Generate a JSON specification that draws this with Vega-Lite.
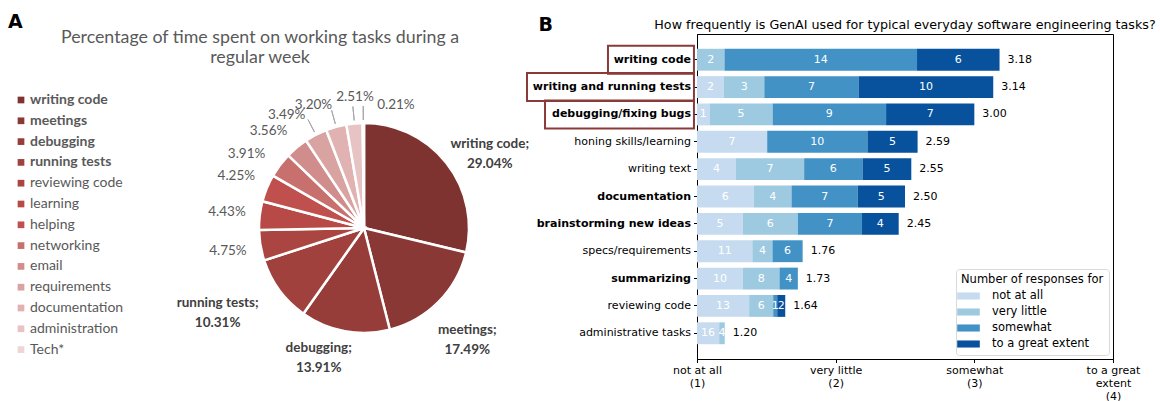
{
  "$schema": "https://vega.github.io/schema/vega-lite/v6.json",
  "padding": {"left": 8, "top": 13, "right": 0, "bottom": 0},
  "bounds": "flush",
  "spacing": 489,
  "resolve": {"scale": {"color": "independent", "theta": "independent", "x": "independent", "y": "independent"}, "legend": {"color": "independent"}},
  "config": {"view": {"stroke": null}, "font": "DejaVu Sans"},
  "hconcat": [
    {
      "title": {"text": "A", "anchor": "start", "frame": "bounds", "fontSize": 19, "fontWeight": "bold", "font": "DejaVu Sans", "color": "black", "dx": -6, "offset": -3},
      "bounds": "flush",
      "resolve": {"legend": {"color": "independent"}},
      "vconcat": [
        {
          "width": 312,
          "height": 388,
          "title": {"text": ["Percentage of time spent on working tasks during a", "regular week"], "font": "Lato", "fontSize": 17.8, "fontWeight": "normal", "color": "#595959", "lineHeight": 20, "anchor": "middle", "frame": "group", "dx": -104, "offset": -33},
          "data": {"values": [
            {"task": "writing code", "pct": 29.04},
            {"task": "meetings", "pct": 17.49},
            {"task": "debugging", "pct": 13.91},
            {"task": "running tests", "pct": 10.31},
            {"task": "reviewing code", "pct": 4.75},
            {"task": "learning", "pct": 4.43},
            {"task": "helping", "pct": 4.25},
            {"task": "networking", "pct": 3.91},
            {"task": "email", "pct": 3.56},
            {"task": "requirements", "pct": 3.49},
            {"task": "documentation", "pct": 3.20},
            {"task": "administration", "pct": 2.51},
            {"task": "Tech*", "pct": 0.21}
          ]},
          "transform": [
            {"stack": "pct", "groupby": [], "sort": [{"field": "pct", "order": "descending"}], "offset": "normalize", "as": ["s0", "s1"]},
            {"calculate": "(datum.s0 + datum.s1) / 2", "as": "mid"},
            {"calculate": "datum.task + ';\\n' + format(datum.pct, '.2f') + '%'", "as": "big"},
            {"calculate": "format(datum.pct, '.2f') + '%'", "as": "small"}
          ],
          "layer": [
            {
              "mark": {"type": "arc", "outerRadius": 105, "stroke": "white", "strokeWidth": 2.5},
              "encoding": {
                "theta": {"field": "s0", "type": "quantitative", "stack": null, "scale": {"domain": [0, 1]}},
                "theta2": {"field": "s1"},
                "color": {
                  "field": "task", "type": "nominal",
                  "scale": {
                    "domain": ["writing code", "meetings", "debugging", "running tests", "reviewing code", "learning", "helping", "networking", "email", "requirements", "documentation", "administration", "Tech*"],
                    "range": ["#7f3331", "#8a3836", "#963d3a", "#a0413e", "#ab4542", "#b74a47", "#c0504d", "#c8706e", "#d18d8b", "#d9a3a1", "#e0b3b2", "#e7c4c3", "#eed6d5"]
                  },
                  "legend": {
                    "orient": "none", "legendX": -194, "legendY": 59, "title": null, "padding": 0,
                    "symbolType": "square", "symbolSize": 45, "symbolStrokeWidth": 0,
                    "labelFont": "Lato", "labelFontSize": 14, "labelColor": "#595959", "labelOffset": 2,
                    "rowPadding": 6.8,
                    "labelFontWeight": {"expr": "indexof(['writing code','meetings','debugging','running tests'], datum.label) >= 0 ? 'bold' : 'normal'"}
                  }
                }
              }
            },
            {
              "transform": [{"filter": "indexof(['requirements','documentation','administration','Tech*'], datum.task) >= 0"}],
              "mark": {"type": "arc", "innerRadius": 108, "outerRadius": 122, "stroke": "#a6a6a6", "strokeWidth": 1, "fillOpacity": 0},
              "encoding": {
                "theta": {"field": "mid", "type": "quantitative", "stack": null, "scale": {"domain": [0, 1]}},
                "theta2": {"field": "mid"}
              }
            },
            {
              "transform": [{"filter": "indexof(['reviewing code','learning','helping'], datum.task) >= 0"}],
              "mark": {"type": "text", "radius": 138, "font": "Lato", "fontSize": 13.5, "color": "#595959"},
              "encoding": {"theta": {"field": "mid", "type": "quantitative", "stack": null, "scale": {"domain": [0, 1]}}, "text": {"field": "small"}}
            },
            {
              "transform": [{"filter": "indexof(['networking','email'], datum.task) >= 0"}],
              "mark": {"type": "text", "radius": 138, "dx": -7, "dy": 9, "font": "Lato", "fontSize": 13.5, "color": "#595959"},
              "encoding": {"theta": {"field": "mid", "type": "quantitative", "stack": null, "scale": {"domain": [0, 1]}}, "text": {"field": "small"}}
            },
            {
              "transform": [{"filter": "indexof(['requirements','documentation'], datum.task) >= 0"}],
              "mark": {"type": "text", "radius": 138, "dx": -14, "dy": 10, "font": "Lato", "fontSize": 13.5, "color": "#595959"},
              "encoding": {"theta": {"field": "mid", "type": "quantitative", "stack": null, "scale": {"domain": [0, 1]}}, "text": {"field": "small"}}
            },
            {
              "transform": [{"filter": "datum.task === 'administration'"}],
              "mark": {"type": "text", "radius": 132, "dx": 3, "font": "Lato", "fontSize": 13.5, "color": "#595959"},
              "encoding": {"theta": {"field": "mid", "type": "quantitative", "stack": null, "scale": {"domain": [0, 1]}}, "text": {"field": "small"}}
            },
            {
              "transform": [{"filter": "datum.task === 'Tech*'"}],
              "mark": {"type": "text", "radius": 123, "align": "left", "dx": 14, "font": "Lato", "fontSize": 13.5, "color": "#595959"},
              "encoding": {"theta": {"field": "mid", "type": "quantitative", "stack": null, "scale": {"domain": [0, 1]}}, "text": {"field": "small"}}
            },
            {
              "transform": [{"filter": "datum.task === 'writing code'"}],
              "mark": {"type": "text", "radius": 150, "dx": 8, "dy": 9, "lineBreak": "\n", "lineHeight": 20, "font": "Lato", "fontSize": 13.5, "fontWeight": "bold", "color": "#404040"},
              "encoding": {"theta": {"field": "mid", "type": "quantitative", "stack": null, "scale": {"domain": [0, 1]}}, "text": {"field": "big"}}
            },
            {
              "transform": [{"filter": "datum.task === 'meetings'"}],
              "mark": {"type": "text", "radius": 145, "lineBreak": "\n", "lineHeight": 20, "font": "Lato", "fontSize": 13.5, "fontWeight": "bold", "color": "#404040"},
              "encoding": {"theta": {"field": "mid", "type": "quantitative", "stack": null, "scale": {"domain": [0, 1]}}, "text": {"field": "big"}}
            },
            {
              "transform": [{"filter": "datum.task === 'debugging'"}],
              "mark": {"type": "text", "radius": 122, "dx": -23, "lineBreak": "\n", "lineHeight": 20, "font": "Lato", "fontSize": 13.5, "fontWeight": "bold", "color": "#404040"},
              "encoding": {"theta": {"field": "mid", "type": "quantitative", "stack": null, "scale": {"domain": [0, 1]}}, "text": {"field": "big"}}
            },
            {
              "transform": [{"filter": "datum.task === 'running tests'"}],
              "mark": {"type": "text", "radius": 168, "dx": -11, "dy": -25, "lineBreak": "\n", "lineHeight": 20, "font": "Lato", "fontSize": 13.5, "fontWeight": "bold", "color": "#404040"},
              "encoding": {"theta": {"field": "mid", "type": "quantitative", "stack": null, "scale": {"domain": [0, 1]}}, "text": {"field": "big"}}
            }
          ]
        }
      ]
    },
    {
      "title": {"text": "B", "anchor": "start", "frame": "bounds", "fontSize": 19, "fontWeight": "bold", "font": "DejaVu Sans", "color": "black", "dx": 13, "offset": -16},
      "bounds": "flush",
      "resolve": {"legend": {"color": "independent"}},
      "vconcat": [
        {
          "width": 416,
          "height": 325,
          "view": {"stroke": "black", "strokeWidth": 1},
          "title": {"text": "How frequently is GenAI used for typical everyday software engineering tasks?", "font": "DejaVu Sans", "fontSize": 12.7, "fontWeight": "normal", "color": "black", "anchor": "middle", "frame": "group", "offset": 2},
          "data": {"values": [
            {"task": "writing code", "level": "not at all", "count": 0},
            {"task": "writing code", "level": "very little", "count": 2},
            {"task": "writing code", "level": "somewhat", "count": 14},
            {"task": "writing code", "level": "to a great extent", "count": 6},
            {"task": "writing and running tests", "level": "not at all", "count": 2},
            {"task": "writing and running tests", "level": "very little", "count": 3},
            {"task": "writing and running tests", "level": "somewhat", "count": 7},
            {"task": "writing and running tests", "level": "to a great extent", "count": 10},
            {"task": "debugging/fixing bugs", "level": "not at all", "count": 1},
            {"task": "debugging/fixing bugs", "level": "very little", "count": 5},
            {"task": "debugging/fixing bugs", "level": "somewhat", "count": 9},
            {"task": "debugging/fixing bugs", "level": "to a great extent", "count": 7},
            {"task": "honing skills/learning", "level": "not at all", "count": 7},
            {"task": "honing skills/learning", "level": "very little", "count": 0},
            {"task": "honing skills/learning", "level": "somewhat", "count": 10},
            {"task": "honing skills/learning", "level": "to a great extent", "count": 5},
            {"task": "writing text", "level": "not at all", "count": 4},
            {"task": "writing text", "level": "very little", "count": 7},
            {"task": "writing text", "level": "somewhat", "count": 6},
            {"task": "writing text", "level": "to a great extent", "count": 5},
            {"task": "documentation", "level": "not at all", "count": 6},
            {"task": "documentation", "level": "very little", "count": 4},
            {"task": "documentation", "level": "somewhat", "count": 7},
            {"task": "documentation", "level": "to a great extent", "count": 5},
            {"task": "brainstorming new ideas", "level": "not at all", "count": 5},
            {"task": "brainstorming new ideas", "level": "very little", "count": 6},
            {"task": "brainstorming new ideas", "level": "somewhat", "count": 7},
            {"task": "brainstorming new ideas", "level": "to a great extent", "count": 4},
            {"task": "specs/requirements", "level": "not at all", "count": 11},
            {"task": "specs/requirements", "level": "very little", "count": 4},
            {"task": "specs/requirements", "level": "somewhat", "count": 6},
            {"task": "specs/requirements", "level": "to a great extent", "count": 0},
            {"task": "summarizing", "level": "not at all", "count": 10},
            {"task": "summarizing", "level": "very little", "count": 8},
            {"task": "summarizing", "level": "somewhat", "count": 4},
            {"task": "summarizing", "level": "to a great extent", "count": 0},
            {"task": "reviewing code", "level": "not at all", "count": 13},
            {"task": "reviewing code", "level": "very little", "count": 6},
            {"task": "reviewing code", "level": "somewhat", "count": 1},
            {"task": "reviewing code", "level": "to a great extent", "count": 2},
            {"task": "administrative tasks", "level": "not at all", "count": 16},
            {"task": "administrative tasks", "level": "very little", "count": 4},
            {"task": "administrative tasks", "level": "somewhat", "count": 0},
            {"task": "administrative tasks", "level": "to a great extent", "count": 0}
          ]},
          "transform": [
            {"calculate": "indexof(['not at all','very little','somewhat','to a great extent'], datum.level) + 1", "as": "score"},
            {"calculate": "datum.count * datum.score", "as": "w"},
            {"joinaggregate": [{"op": "sum", "field": "count", "as": "n"}, {"op": "sum", "field": "w", "as": "sw"}], "groupby": ["task"]},
            {"calculate": "datum.sw / datum.n", "as": "mean"},
            {"calculate": "datum.count / datum.n * (datum.mean - 1)", "as": "seg"},
            {"stack": "seg", "groupby": ["task"], "sort": [{"field": "score", "order": "ascending"}], "as": ["s0", "s1"]},
            {"calculate": "1 + datum.s0", "as": "a0"},
            {"calculate": "1 + datum.s1", "as": "a1"},
            {"calculate": "1 + (datum.s0 + datum.s1) / 2", "as": "amid"}
          ],
          "encoding": {
            "y": {
              "field": "task", "type": "nominal",
              "sort": ["writing code", "writing and running tests", "debugging/fixing bugs", "honing skills/learning", "writing text", "documentation", "brainstorming new ideas", "specs/requirements", "summarizing", "reviewing code", "administrative tasks"],
              "scale": {"paddingInner": 0.2, "paddingOuter": 0.54},
              "axis": {
                "title": null, "labelFont": "DejaVu Sans", "labelFontSize": 11, "labelColor": "black",
                "tickColor": "black", "domainColor": "black", "tickSize": 3.5, "labelPadding": 3, "labelLimit": 0,
                "labelFontWeight": {"condition": {"test": "indexof(['writing code','writing and running tests','debugging/fixing bugs','documentation','brainstorming new ideas','summarizing'], datum.value) >= 0", "value": "bold"}, "value": "normal"}
              }
            }
          },
          "layer": [
            {
              "transform": [{"filter": "datum.count > 0"}],
              "mark": {"type": "bar"},
              "encoding": {
                "x": {
                  "field": "a0", "type": "quantitative",
                  "scale": {"domain": [1, 4], "nice": false, "zero": false},
                  "axis": {
                    "values": [1, 2, 3, 4], "title": null, "grid": false, "labelFlush": false, "labelOverlap": false,
                    "labelExpr": "datum.value == 1 ? ['not at all', '(1)'] : datum.value == 2 ? ['very little', '(2)'] : datum.value == 3 ? ['somewhat', '(3)'] : ['to a great', 'extent', '(4)']",
                    "labelFont": "DejaVu Sans", "labelFontSize": 11, "labelColor": "black", "labelLineHeight": 13,
                    "tickColor": "black", "domainColor": "black", "tickSize": 3.5, "labelPadding": 2
                  }
                },
                "x2": {"field": "a1"},
                "color": {
                  "field": "level", "type": "nominal",
                  "scale": {"domain": ["not at all", "very little", "somewhat", "to a great extent"], "range": ["#c6dbef", "#9ecae1", "#4292c6", "#08519c"]},
                  "legend": {
                    "orient": "bottom-right", "offset": 4, "title": "Number of responses for",
                    "titleFont": "DejaVu Sans", "titleFontSize": 11.5, "titleFontWeight": "normal", "titleColor": "black",
                    "labelFont": "DejaVu Sans", "labelFontSize": 11.5, "labelColor": "black",
                    "symbolType": "M-1.6,-0.5H1.6V0.5H-1.6Z", "symbolSize": 200, "symbolStrokeWidth": 0, "symbolOpacity": 1,
                    "labelOffset": 16, "rowPadding": 3, "padding": 5, "strokeColor": "#d9d9d9", "fillColor": "white", "cornerRadius": 3, "titlePadding": 3
                  }
                }
              }
            },
            {
              "transform": [{"filter": "datum.count > 0"}],
              "mark": {"type": "text", "color": "white", "font": "DejaVu Sans", "fontSize": 11},
              "encoding": {"x": {"field": "amid", "type": "quantitative"}, "text": {"field": "count"}}
            },
            {
              "transform": [{"filter": "datum.score === 4"}],
              "mark": {"type": "text", "align": "left", "dx": 8, "color": "black", "font": "DejaVu Sans", "fontSize": 11},
              "encoding": {"x": {"field": "mean", "type": "quantitative"}, "text": {"field": "mean", "format": ".2f"}}
            },
            {
              "transform": [{"filter": "datum.task === 'writing code' && datum.score === 1"}],
              "mark": {"type": "rect", "fill": "white", "fillOpacity": 0, "stroke": "#8b3a3a", "strokeWidth": 2, "height": {"band": 1.28}},
              "encoding": {"x": {"datum": 0.358}, "x2": {"datum": 0.978}}
            },
            {
              "transform": [{"filter": "datum.task === 'writing and running tests' && datum.score === 1"}],
              "mark": {"type": "rect", "fill": "white", "fillOpacity": 0, "stroke": "#8b3a3a", "strokeWidth": 2, "height": {"band": 1.28}},
              "encoding": {"x": {"datum": -0.226}, "x2": {"datum": 0.978}}
            },
            {
              "transform": [{"filter": "datum.task === 'debugging/fixing bugs' && datum.score === 1"}],
              "mark": {"type": "rect", "fill": "white", "fillOpacity": 0, "stroke": "#8b3a3a", "strokeWidth": 2, "height": {"band": 1.28}},
              "encoding": {"x": {"datum": -0.096}, "x2": {"datum": 0.978}}
            }
          ]
        }
      ]
    }
  ]
}
